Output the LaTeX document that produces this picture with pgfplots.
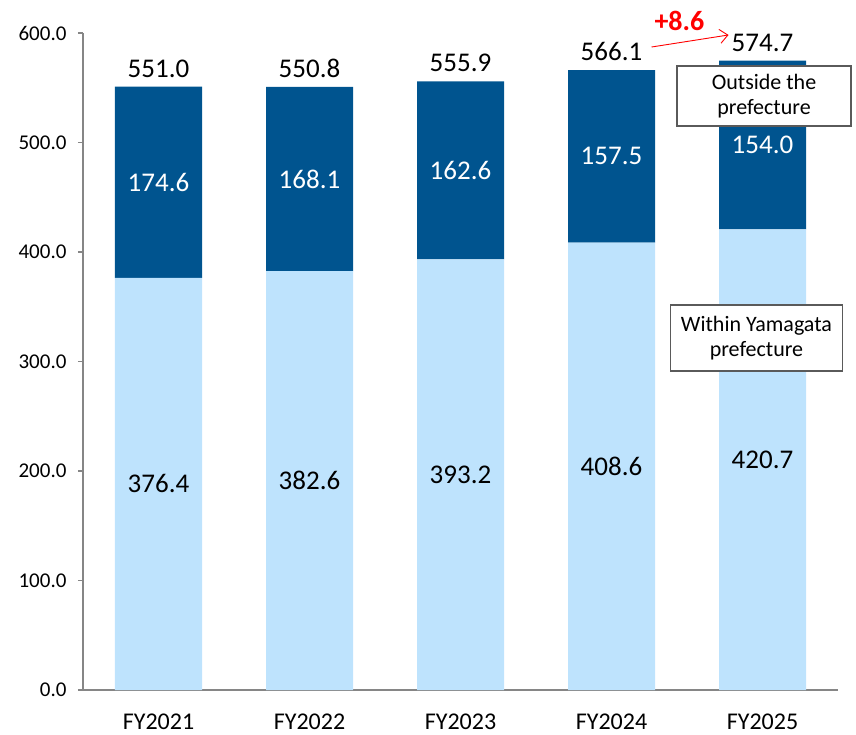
\documentclass[border=0pt]{standalone}
\usepackage{pgfplots}
\pgfplotsset{compat=1.18}
\usepackage{fontspec}
\setmainfont{Carlito}
\usetikzlibrary{arrows.meta}
\definecolor{darkb}{RGB}{0,84,143}
\definecolor{lightb}{RGB}{190,227,253}
\definecolor{axgray}{RGB}{134,134,134}
\definecolor{boxgray}{RGB}{90,90,90}
\newcommand\vfont{\fontsize{27}{29}\selectfont}
\newcommand\mylabels{%
  \foreach \x/\a/\b/\t in {0/376.4/174.6/551.0, 1/382.6/168.1/550.8, 2/393.2/162.6/555.9, 3/408.6/157.5/566.1, 4/420.7/154.0/574.7} {
    \pgfmathsetmacro{\ya}{\a/2}
    \pgfmathsetmacro{\yb}{\a+\b/2}
    \pgfmathsetmacro{\yt}{\a+\b}
    \node[font=\vfont] at (axis cs:\x,\ya) {\a};
    \node[font=\vfont, text=white] at (axis cs:\x,\yb) {\b};
    \node[font=\vfont, anchor=south, inner sep=0pt] at (axis cs:\x,\yt) [yshift=9pt] {\t};
  }
  \node[draw=boxgray, line width=1.2pt, fill=white, align=center, minimum width=174pt, minimum height=60pt, inner sep=2pt, font=\fontsize{22}{25}\selectfont] at (axis cs:4.01,542.5) {Outside the\\prefecture};
  \node[draw=boxgray, line width=1.2pt, fill=white, align=center, minimum width=172pt, minimum height=66pt, inner sep=2pt, font=\fontsize{22}{25}\selectfont] at (axis cs:3.96,321.5) {Within Yamagata\\prefecture};
  \draw[red, line width=0.9pt, -{Straight Barb[length=8pt,width=14pt]}] (axis cs:3.265,587.2) -- (axis cs:3.775,598.2);
  \node[text=red, font=\fontsize{28}{30}\selectfont\bfseries] at (axis cs:3.45,611) {+8.6};
}
\begin{document}
\begin{tikzpicture}[x=1pt,y=1pt]
\path (-83,-44) rectangle (773,690);
\begin{axis}[
  at={(0,0)}, anchor=south west,
  scale only axis, width=755pt, height=657pt,
  ybar stacked, bar width=87pt,
  xmin=-0.5, xmax=4.5, ymin=0, ymax=600,
  clip=false,
  axis x line*=bottom, axis y line*=left,
  axis line style={draw=axgray, line width=1.3pt},
  xtick={0,1,2,3,4},
  xticklabels={FY2021,FY2022,FY2023,FY2024,FY2025},
  x tick label style={font=\fontsize{24}{26}\selectfont, yshift=-15pt},
  major x tick style={draw=none},
  extra x ticks={0.5,1.5,2.5,3.5,4.5},
  extra x tick labels={},
  extra x tick style={major tick length=8pt, tick align=outside, tick style={draw=axgray, line width=1.3pt}},
  ytick={0,100,...,600},
  yticklabel={\pgfmathprintnumber[fixed,fixed zerofill,precision=1]{\tick}},
  /pgf/number format/assume math mode=true,
  y tick label style={font=\fontsize{21}{23}\selectfont, xshift=-8pt},
  ytick style={draw=axgray, line width=1.3pt},
  major tick length=5pt, tick align=outside,
  after end axis/.code={\mylabels},
]
\addplot[fill=lightb, draw=none] coordinates {(0,376.4) (1,382.6) (2,393.2) (3,408.6) (4,420.7)};
\addplot[fill=darkb, draw=none] coordinates {(0,174.6) (1,168.1) (2,162.6) (3,157.5) (4,154.0)};
\end{axis}
\end{tikzpicture}
\end{document}
